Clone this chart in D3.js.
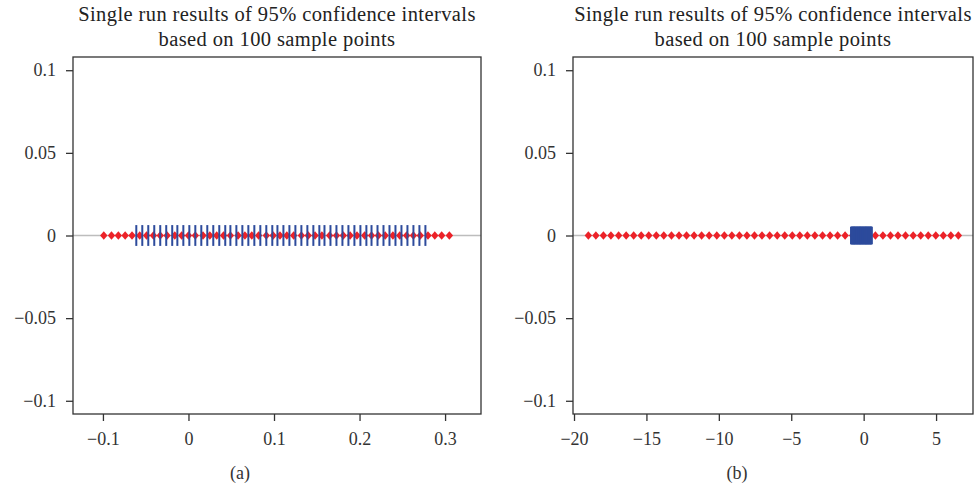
<!DOCTYPE html>
<html>
<head>
<meta charset="utf-8">
<script src="https://cdn.jsdelivr.net/npm/d3@7"></script>
<style>
  body { margin: 0; background: #fff; }
  svg text { font-family: "Liberation Serif", "DejaVu Serif", serif; }
</style>
</head>
<body>
<svg id="chart" width="975" height="491"></svg>
<script>
// ---- data ----
const titleLines = ["Single run results of 95% confidence intervals", "based on 100 sample points"];

// panel (a)
const pointsA = [-0.099, -0.090, -0.082, -0.074, -0.066, -0.057, -0.049, -0.041, -0.033, -0.025,
  -0.016, -0.008, 0.000, 0.008, 0.017, 0.025, 0.033, 0.041, 0.049, 0.058,
  0.066, 0.074, 0.082, 0.091, 0.099, 0.107, 0.115, 0.123, 0.132, 0.140,
  0.148, 0.156, 0.165, 0.173, 0.181, 0.189, 0.197, 0.206, 0.214, 0.222,
  0.230, 0.239, 0.247, 0.255, 0.263, 0.271, 0.280, 0.288, 0.296, 0.305];
const intervalsA = [-0.061, -0.054, -0.047, -0.040, -0.033, -0.026, -0.019, -0.013, -0.006, 0.001,
  0.008, 0.015, 0.022, 0.029, 0.036, 0.043, 0.049, 0.056, 0.063, 0.070,
  0.077, 0.084, 0.091, 0.098, 0.104, 0.111, 0.118, 0.125, 0.132, 0.139,
  0.146, 0.153, 0.159, 0.166, 0.173, 0.180, 0.187, 0.194, 0.201, 0.208,
  0.214, 0.221, 0.228, 0.235, 0.242, 0.249, 0.256, 0.263, 0.270, 0.277];
const xTicksA = [-0.1, 0, 0.1, 0.2, 0.3];

// panel (b)
const pointsB = [-19.01, -18.49, -17.97, -17.45, -16.92, -16.40, -15.88, -15.36, -14.84, -14.32,
  -13.80, -13.27, -12.75, -12.23, -11.71, -11.19, -10.67, -10.14, -9.62, -9.10,
  -8.58, -8.06, -7.54, -7.02, -6.49, -5.97, -5.45, -4.93, -4.41, -3.89,
  -3.37, -2.84, -2.32, -1.80, -1.28, -0.76, -0.24, 0.29, 0.81, 1.33,
  1.85, 2.37, 2.89, 3.42, 3.94, 4.46, 4.98, 5.50, 6.02, 6.54];
const intervalsB = [-0.87, -0.84, -0.81, -0.78, -0.75, -0.72, -0.69, -0.66, -0.64, -0.61,
  -0.58, -0.55, -0.52, -0.49, -0.46, -0.43, -0.40, -0.37, -0.34, -0.31,
  -0.28, -0.25, -0.23, -0.20, -0.17, -0.14, -0.11, -0.08, -0.05, -0.02,
  0.01, 0.04, 0.07, 0.10, 0.13, 0.16, 0.18, 0.21, 0.24, 0.27,
  0.30, 0.33, 0.36, 0.39, 0.42, 0.45, 0.48, 0.51, 0.53, 0.56];
const xTicksB = [-20, -15, -10, -5, 0, 5];

const yTicks = [-0.1, -0.05, 0, 0.05, 0.1];

const red = "#ec2228";
const blue = "#2d4b9c";
const fmt = v => v === 0 ? "0" : String(v).replace("-", "\u2212");
const serif = "'Liberation Serif', 'DejaVu Serif', serif";

const svg = d3.select("#chart");

// diamond a bit wider than d3's built-in one
const diamond = {
  draw(ctx, size) {
    const w = 3.7, h = 4.2;
    ctx.moveTo(0, -h); ctx.lineTo(w, 0); ctx.lineTo(0, h); ctx.lineTo(-w, 0); ctx.closePath();
  }
};

function drawPanel(cfg) {
  const g = svg.append("g");
  const x = d3.scaleLinear().domain(cfg.xDomain).range([cfg.left, cfg.right]);
  const y = d3.scaleLinear().domain([-0.108, 0.108]).range([414, 57]);

  // title
  g.selectAll("text.title")
    .data(titleLines)
    .join("text")
    .attr("class", "title")
    .attr("x", (cfg.left + cfg.right) / 2)
    .attr("y", (d, i) => 21 + i * 25)
    .attr("text-anchor", "middle")
    .style("font-family", serif)
    .style("font-size", "20.5px")
    .style("letter-spacing", "0.4px")
    .attr("fill", "#222")
    .text(d => d);

  // zero reference line
  g.append("line")
    .attr("x1", cfg.left).attr("x2", cfg.right)
    .attr("y1", y(0)).attr("y2", y(0))
    .attr("stroke", "#bdbdbd")
    .attr("stroke-width", 1.5);

  // point estimates
  g.selectAll("path.pt")
    .data(cfg.points)
    .join("path")
    .attr("class", "pt")
    .attr("transform", d => `translate(${x(d)},${y(0)})`)
    .attr("fill", red)
    .attr("d", d3.symbol(diamond));

  // interval markers
  g.selectAll("line.ci")
    .data(cfg.intervals)
    .join("line")
    .attr("class", "ci")
    .attr("x1", d => x(d)).attr("x2", d => x(d))
    .attr("y1", y(cfg.half)).attr("y2", y(-cfg.half))
    .attr("stroke", blue)
    .attr("stroke-width", 2);

  // axes
  const xAxis = g.append("g")
    .attr("transform", `translate(0,414)`)
    .call(d3.axisBottom(x).tickValues(cfg.xTicks).tickFormat(fmt).tickSize(7).tickPadding(11));
  const yAxis = g.append("g")
    .attr("transform", `translate(${cfg.left},0)`)
    .call(d3.axisLeft(y).tickValues(yTicks).tickFormat(fmt).tickSize(7).tickPadding(10));
  [xAxis, yAxis].forEach(a => {
    a.attr("font-family", null).attr("font-size", null);
    a.select(".domain").remove();
    a.selectAll("line").attr("stroke", "#333").attr("stroke-width", 1.3);
    a.selectAll("text").style("font-size", "18px").style("font-family", serif).attr("fill", "#333");
  });

  // frame
  g.append("rect")
    .attr("x", cfg.left).attr("y", 57)
    .attr("width", cfg.right - cfg.left).attr("height", 414 - 57)
    .attr("fill", "none")
    .attr("stroke", "#333")
    .attr("stroke-width", 1.3);

  // sub caption
  g.append("text")
    .attr("x", cfg.captionX)
    .attr("y", 479)
    .attr("text-anchor", "middle")
    .style("font-family", serif)
    .style("font-size", "18px")
    .attr("fill", "#333")
    .text(cfg.caption);
}

drawPanel({ left: 73, right: 481, xDomain: [-0.135, 0.342], points: pointsA, intervals: intervalsA,
  xTicks: xTicksA, half: 0.0063, caption: "(a)", captionX: 240 });
drawPanel({ left: 573, right: 973, xDomain: [-20.07, 7.55], points: pointsB, intervals: intervalsB,
  xTicks: xTicksB, half: 0.0053, caption: "(b)", captionX: 737 });
</script>
</body>
</html>
